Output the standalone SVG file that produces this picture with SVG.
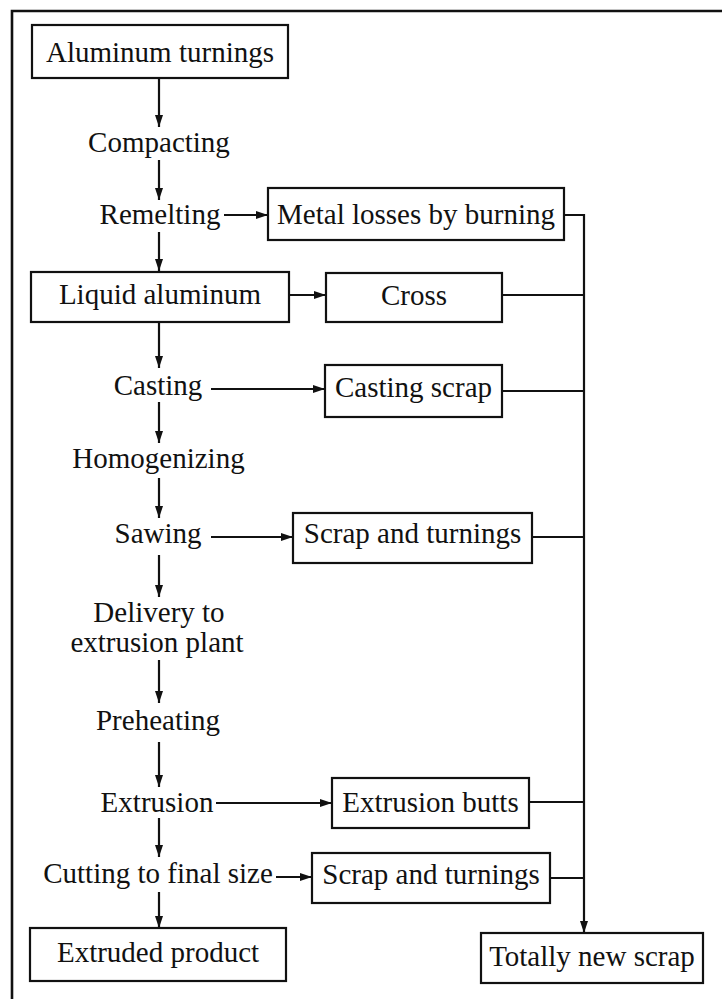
<svg xmlns="http://www.w3.org/2000/svg" width="722" height="999" viewBox="0 0 722 999">
  <style>
    .box { fill: #ffffff; stroke: #111111; stroke-width: 2.2; }
    .t { font-family: "Liberation Serif", "Times New Roman", serif; font-size: 29px; fill: #111111; text-anchor: middle; }
    .c { fill: none; stroke: #111111; stroke-width: 2.2; }
    .a { fill: none; stroke: #111111; stroke-width: 2.2; marker-end: url(#ah); }
  </style>
  <defs>
    <marker id="ah" viewBox="0 0 12 8" refX="12" refY="4" markerWidth="12" markerHeight="8" markerUnits="userSpaceOnUse" orient="auto">
      <path d="M0,0 L12,4 L0,8 z" fill="#111111"/>
    </marker>
  </defs>
  <rect width="722" height="999" fill="#ffffff"/>
  <path id="frame" d="M12,999 V11 H722" fill="none" stroke="#111111" stroke-width="2.6"/>

  <g id="connectors">
    <path class="a" d="M159,78 V127"/>
    <path class="a" d="M159,160 V200"/>
    <path class="a" d="M159,232 V271"/>
    <path class="a" d="M224,215 H268"/>
    <path class="a" d="M159,322 V368"/>
    <path class="a" d="M289,295 H326"/>
    <path class="a" d="M211,389 H325"/>
    <path class="a" d="M159,402 V443"/>
    <path class="a" d="M159,478 V518"/>
    <path class="a" d="M211,537 H293"/>
    <path class="a" d="M159,555 V597"/>
    <path class="a" d="M159,660 V703"/>
    <path class="a" d="M159,742 V787"/>
    <path class="a" d="M216,803 H332"/>
    <path class="a" d="M159,818 V857"/>
    <path class="a" d="M276,877 H312"/>
    <path class="a" d="M159,892 V928"/>
    <path class="a" d="M564,215 H584 V933"/>
    <path class="c" d="M502,295 H584"/>
    <path class="c" d="M502,391 H584"/>
    <path class="c" d="M532,537 H584"/>
    <path class="c" d="M529,802 H584"/>
    <path class="c" d="M550,878 H584"/>
  </g>

  <g id="aluminum-turnings">
    <rect class="box" x="32" y="25" width="256" height="53"/>
    <text class="t" x="160" y="62">Aluminum turnings</text>
  </g>
  <g id="compacting">
    <text class="t" x="159" y="152">Compacting</text>
  </g>
  <g id="remelting">
    <text class="t" x="160" y="224">Remelting</text>
  </g>
  <g id="metal-losses">
    <rect class="box" x="268" y="188" width="296" height="52"/>
    <text class="t" x="416" y="224">Metal losses by burning</text>
  </g>
  <g id="liquid-aluminum">
    <rect class="box" x="31" y="272" width="258" height="50"/>
    <text class="t" x="160" y="304">Liquid aluminum</text>
  </g>
  <g id="cross">
    <rect class="box" x="326" y="273" width="176" height="49"/>
    <text class="t" x="414" y="305">Cross</text>
  </g>
  <g id="casting">
    <text class="t" x="158" y="395">Casting</text>
  </g>
  <g id="casting-scrap">
    <rect class="box" x="325" y="365" width="177" height="52"/>
    <text class="t" x="413.5" y="397">Casting scrap</text>
  </g>
  <g id="homogenizing">
    <text class="t" x="158.5" y="468">Homogenizing</text>
  </g>
  <g id="sawing">
    <text class="t" x="158" y="543">Sawing</text>
  </g>
  <g id="scrap-turnings-1">
    <rect class="box" x="293" y="513" width="239" height="50"/>
    <text class="t" x="412.5" y="543">Scrap and turnings</text>
  </g>
  <g id="delivery">
    <text class="t" x="159" y="622" font-size="28">Delivery to</text>
    <text class="t" x="157" y="652" font-size="28">extrusion plant</text>
  </g>
  <g id="preheating">
    <text class="t" x="158" y="730">Preheating</text>
  </g>
  <g id="extrusion">
    <text class="t" x="157" y="812">Extrusion</text>
  </g>
  <g id="extrusion-butts">
    <rect class="box" x="332" y="778" width="197" height="50"/>
    <text class="t" x="430.5" y="812">Extrusion butts</text>
  </g>
  <g id="cutting">
    <text class="t" x="158" y="883">Cutting to final size</text>
  </g>
  <g id="scrap-turnings-2">
    <rect class="box" x="312" y="853" width="238" height="50"/>
    <text class="t" x="431" y="884">Scrap and turnings</text>
  </g>
  <g id="extruded-product">
    <rect class="box" x="30" y="928" width="256" height="53"/>
    <text class="t" x="158" y="962">Extruded product</text>
  </g>
  <g id="totally-new-scrap">
    <rect class="box" x="481" y="933" width="222" height="50"/>
    <text class="t" x="592" y="966">Totally new scrap</text>
  </g>
</svg>
